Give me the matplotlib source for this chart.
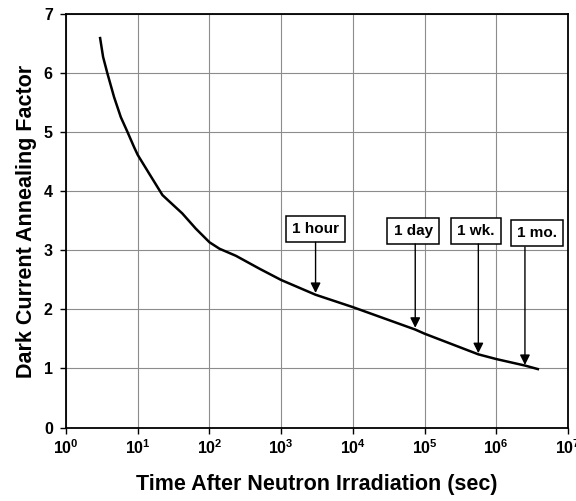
import matplotlib
matplotlib.use('Agg')
import matplotlib.pyplot as plt

plt.rcParams['font.family'] = ['Liberation Sans', 'DejaVu Sans']
plt.rcParams['font.weight'] = 'bold'
plt.rcParams['mathtext.fontset'] = 'custom'
plt.rcParams['mathtext.rm'] = 'Liberation Sans:bold'
plt.rcParams['mathtext.bf'] = 'Liberation Sans:bold'

# annealing curve
time_s = [2.99, 3.29, 3.78, 4.68, 5.81, 7.19, 8.91, 10, 14.5, 22.1, 26.0, 41.7, 64.6,
          100, 138, 234, 501, 1000, 3020, 1e4, 74100, 1e5, 562000, 1e6, 2.51e6, 3.8e6]
factor = [6.60, 6.28, 6.00, 5.60, 5.26, 5.01, 4.75, 4.62, 4.30, 3.94, 3.86, 3.63, 3.37,
          3.14, 3.03, 2.91, 2.69, 2.50, 2.25, 2.04, 1.66, 1.59, 1.24, 1.16, 1.05, 0.99]

# time markers
mark_labels = ['1 hour', '1 day', '1 wk.', '1 mo.']
mark_x = [3020, 74100, 562000, 2.51e6]
mark_tip = [2.28, 1.69, 1.26, 1.06]
box_x = [10 ** 3.48, 10 ** 4.84, 10 ** 5.72, 10 ** 6.57]
box_y = [3.37, 3.33, 3.33, 3.30]
box_bottom = [3.14, 3.11, 3.11, 3.06]

xticks = [10 ** i for i in range(8)]
xtick_labels = [r'$10^{%d}$' % i for i in range(8)]
yticks = list(range(8))

fig = plt.figure(figsize=(5.76, 5.01), dpi=100)
ax = fig.add_axes([0.1146, 0.1467, 0.8715, 0.8244])

ax.plot(time_s, factor, color='black', lw=1.8, zorder=3)

for lab, x, tip, bx, by, bb in zip(mark_labels, mark_x, mark_tip, box_x, box_y, box_bottom):
    ax.text(bx, by, lab, ha='center', va='center', fontsize=11, fontweight='bold', zorder=4,
            bbox=dict(boxstyle='square,pad=0.4', facecolor='white', edgecolor='black', lw=1.1))
    ax.annotate('', xy=(x, tip), xytext=(x, bb),
                arrowprops=dict(arrowstyle='-|>', color='black', lw=1.0,
                                mutation_scale=15, shrinkA=0, shrinkB=0), zorder=4)

ax.set_xscale('log')
ax.set_xlim(1, 1e7)
ax.set_ylim(0, 7)
ax.set_xticks(xticks)
ax.set_xticklabels(xtick_labels)
ax.minorticks_off()
ax.set_yticks(yticks)
ax.tick_params(axis='both', direction='out', length=4, width=1, labelsize=11.5)
ax.tick_params(axis='x', pad=4)
ax.tick_params(axis='y', pad=5.5)
ax.grid(True, color='#8c8c8c', lw=0.8)
ax.set_axisbelow(True)
for s in ax.spines.values():
    s.set_color('black')
    s.set_linewidth(1.3)

ax.set_xlabel('Time After Neutron Irradiation (sec)', fontsize=15.5, fontweight='bold', labelpad=12)
ax.set_ylabel('Dark Current Annealing Factor', fontsize=15.5, fontweight='bold')
ax.yaxis.set_label_coords(-0.058, 0.5)

fig.savefig('out.png', dpi=100)
plt.close()
